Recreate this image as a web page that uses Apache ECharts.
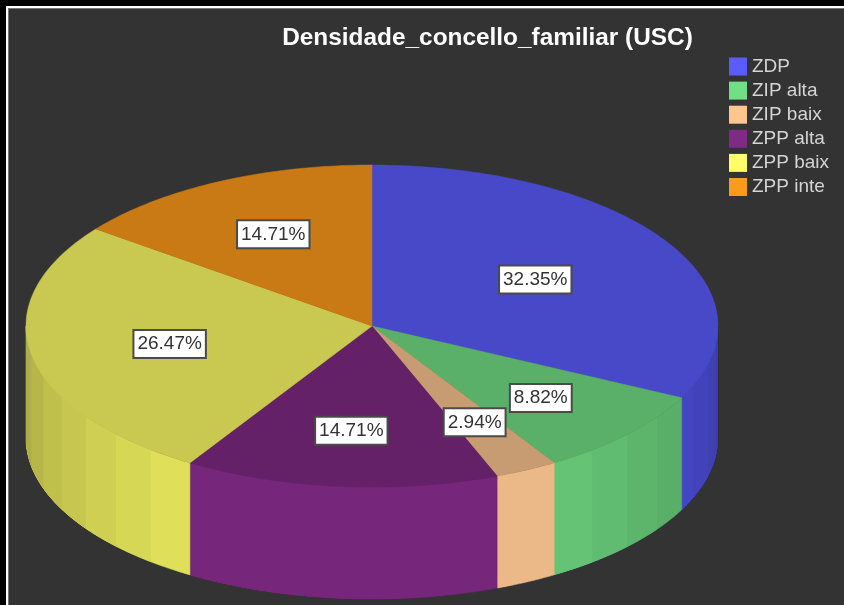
<!DOCTYPE html>
<html>
<head>
<meta charset="utf-8">
<script src="https://cdn.jsdelivr.net/npm/echarts@6/dist/echarts.min.js"></script>
<style>html,body{margin:0;padding:0;background:#000}#c{width:844px;height:605px}</style>
</head>
<body>
<div id="c"></div>
<script>
const categories = ['ZDP', 'ZIP alta', 'ZIP baix', 'ZPP alta', 'ZPP baix', 'ZPP inte'];
const shares = [32.35, 8.82, 2.94, 14.71, 26.47, 14.71];
const colors = ['#5a5cff', '#72df85', '#fdc691', '#7f2a84', '#ffff66', '#ff9a1a'];

// layout of the pie, in pixels
const CX = 372, CY = 326, RX = 346, RY = 161, DEPTH = 112;
const FACET = 8, TOP_SHADE = 0.79;
const labelRadial = [0.555, 0.66, 0.665, 0.65, 0.595, 0.64];

const total = shares.reduce((a, b) => a + b, 0);
const rad = d => d * Math.PI / 180;
const px = d => CX + RX * Math.sin(rad(d));
const py = (d, drop) => CY - RY * Math.cos(rad(d)) + (drop || 0);

function shade(hex, f) {
  const n = parseInt(hex.slice(1), 16);
  const c = [n >> 16 & 255, n >> 8 & 255, n & 255].map(v => Math.round(v * f));
  return 'rgb(' + c.join(',') + ')';
}
function sideShade(mid) {
  const d = Math.abs(mid - 180);
  return d <= 32 ? 0.93 : 0.875 - (d - 36) * 0.004;
}
function arc(a, b) {
  const pts = [];
  const n = Math.max(1, Math.ceil(b - a));
  for (let i = 0; i <= n; i++) {
    const t = a + (b - a) * i / n;
    pts.push([px(t), py(t)]);
  }
  return pts;
}

function renderSlice(params, api) {
  const idx = params.seriesIndex;
  const before = shares.slice(0, idx).reduce((a, b) => a + b, 0);
  const start = before / total * 360;
  const end = start + api.value(0) / total * 360;
  const children = [];

  // curved wall: flat facets on the front half, each painted over the one before
  let first = true;
  for (let a = start; a < end - 1e-6; a += FACET) {
    const s = Math.max(a, 90), e = Math.min(end, 270);
    if (e <= s) continue;
    const rim = arc(s, e);
    const low = rim.slice().reverse().map(p => [p[0], p[1] + DEPTH]);
    const fill = shade(colors[idx], sideShade((a + Math.min(a + FACET, end)) / 2));
    children.push({
      type: 'polygon', shape: { points: rim.concat(low) },
      style: first ? { fill: fill, stroke: fill, lineWidth: 0.5 } : { fill: fill }, z2: 1
    });
    first = false;
  }

  // top face
  const topFill = shade(colors[idx], TOP_SHADE);
  children.push({
    type: 'polygon', shape: { points: [[CX, CY]].concat(arc(start, end)) },
    style: { fill: topFill, stroke: topFill, lineWidth: 0.5 }, z2: 2
  });

  // value label
  const mid = (start + end) / 2, k = labelRadial[idx];
  children.push({
    type: 'text', z2: 100,
    style: {
      x: CX + RX * k * Math.sin(rad(mid)),
      y: CY - RY * k * Math.cos(rad(mid)) + 0.5,
      text: api.value(0).toFixed(2) + '%',
      align: 'center', verticalAlign: 'middle',
      font: '19px "Liberation Sans", Arial, sans-serif',
      fill: '#333333',
      backgroundColor: '#ffffff', borderColor: '#4a4a4a', borderWidth: 2,
      padding: [4, 3, 3, 3]
    }
  });
  return { type: 'group', children: children };
}

const chart = echarts.init(document.getElementById('c'), null, { renderer: 'canvas' });
chart.setOption({
  animation: false,
  backgroundColor: '#000000',
  graphic: [
    { type: 'rect', z: -10, shape: { x: 6, y: 6, width: 838, height: 599 }, style: { fill: '#ffffff' } },
    { type: 'rect', z: -9, shape: { x: 8, y: 8, width: 836, height: 597 }, style: { fill: '#777777' } },
    { type: 'rect', z: -8, shape: { x: 9, y: 9, width: 835, height: 596 }, style: { fill: '#333333' } }
  ],
  title: {
    text: 'Densidade_concello_familiar (USC)',
    left: 482.5, top: 21, textAlign: 'center',
    textStyle: { color: '#ffffff', fontSize: 24.4, fontWeight: 'bold', fontFamily: '"Liberation Sans", Arial, sans-serif' }
  },
  legend: {
    orient: 'vertical', left: 724, top: 52,
    icon: 'rect', itemWidth: 18, itemHeight: 18, itemGap: 5.1,
    data: categories,
    textStyle: { color: '#d4d4d4', fontSize: 19, fontFamily: '"Liberation Sans", Arial, sans-serif' }
  },
  series: categories.map((name, i) => ({
    type: 'custom', name: name, coordinateSystem: 'none',
    itemStyle: { color: colors[i] },
    renderItem: renderSlice,
    data: [[shares[i]]]
  }))
});
</script>
</body>
</html>
